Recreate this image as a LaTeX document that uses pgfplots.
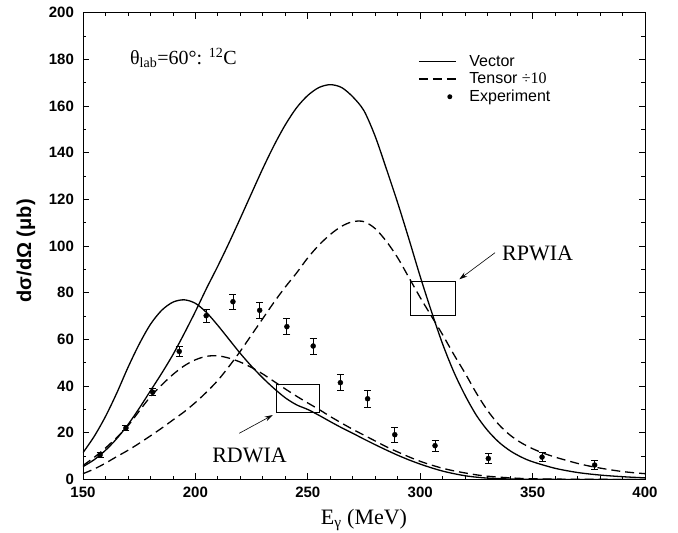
\documentclass[border=0pt]{standalone}
\usepackage{fontspec}
\setmainfont{Liberation Sans}
\newfontfamily\serif{Liberation Serif}
\usepackage{pgfplots}
\usepackage{pgfplotstable}
\pgfplotsset{compat=1.18}
\usetikzlibrary{arrows.meta}

% RDWIA vector
\pgfplotstableread{
x y
150 11.5
155 18.5
160 27
165 37
170 48
175 58
180 66.5
185 72.5
190 76
195 77
200 75.5
205 71.5
210 66
215 60
220 54
225 48.5
230 43.5
235 39
240 35
245 32
250 30
255 27.5
260 24.8
265 22.2
270 19.8
275 17.3
280 14.9
285 12.6
290 10.4
295 8.4
300 6.6
305 5
310 3.6
315 2.5
320 1.6
325 1
330 0.6
340 0.2
350 0.08
370 0.02
400 0
}\rdv

% RDWIA tensor /10
\pgfplotstableread{
x y
150 6
155 9.5
160 13.5
165 18
170 23
175 29.3
180 35.5
185 40.5
190 45
195 48.7
200 51.3
205 52.8
210 53
215 52
220 50.3
225 48
230 45.2
235 42
240 38.8
245 35.7
250 32.8
255 30
260 27
265 24.2
270 21.5
275 19
280 16.5
285 14
290 11.8
295 9.7
300 7.8
305 6.2
310 4.8
315 3.7
320 2.8
325 2
330 1.4
340 0.7
350 0.3
370 0.1
400 0
}\rdt

% RPWIA vector
\pgfplotstableread{
x y
150 5.5
155 8.5
160 12.5
165 17.5
170 23.5
175 30.5
180 38
185 45.5
190 53.5
195 62.5
200 72
205 82
210 91.5
215 101.5
220 112
225 122.7
230 133.3
235 143.2
240 152
245 159.3
250 164.6
255 168
260 169.2
265 168
270 164
275 158
280 147
285 133
290 118.5
295 103
300 87
305 72
310 58
315 46
320 36
325 27.5
330 21
335 16
340 12.3
345 9.6
350 7.6
360 4.8
370 3
380 1.9
390 1.2
400 0.7
}\rpv

% RPWIA tensor /10
\pgfplotstableread{
x y
150 2.5
155 4.5
160 7
165 9.8
170 12.5
175 15.5
180 18.7
185 22
190 25.5
195 29
200 33
205 37.5
210 42.5
215 48.5
220 55
225 62
230 69
235 76
240 82.5
245 88.5
250 95
255 100.5
260 105
265 108.5
270 110.5
275 110.5
280 107.5
285 102
290 95
295 86.5
300 78
305 70
310 62
315 53.5
320 45.5
325 37
330 29.5
335 23.5
340 19
345 15.7
350 13.2
355 11.2
360 9.6
365 8.2
370 6.9
375 5.8
380 4.9
385 4.1
390 3.4
395 2.9
400 2.5
}\rpt

% Experiment
\pgfplotstableread{
x y e
157.6 10.5 1.0
169.1 22.1 1.0
181.0 37.4 1.5
192.8 54.9 2.3
204.8 70.2 2.9
216.7 76.2 3.3
228.6 72.5 3.4
240.7 65.5 3.5
252.4 57.2 3.4
264.5 41.5 3.4
276.6 34.6 3.6
288.7 19.2 3.1
306.6 14.5 2.4
330.3 9.0 2.2
354.2 9.6 2.0
377.6 6.2 1.9
}\expdata

\begin{document}
\begin{tikzpicture}
\begin{axis}[
  scale only axis, width=562pt, height=466.7pt,
  xmin=150, xmax=400, ymin=0, ymax=200,
  xtick={150,200,...,400}, ytick={0,20,...,200},
  minor x tick num=4, minor y tick num=1,
  major tick length=6pt, minor tick length=3.5pt,
  tick align=inside,
  axis line style={line width=0.9pt},
  every tick/.style={line width=0.8pt, black},
  /pgf/number format/assume math mode=true,
  tick label style={font=\fontsize{15}{18}\selectfont\bfseries},
  xticklabel style={yshift=-3.8pt},
  yticklabel style={xshift=-5.6pt},
  xlabel={{\serif E\textsubscript{γ} (MeV)}},
  ylabel={\bfseries dσ/dΩ (μb)},
  every axis x label/.style={at={(axis description cs:0.5,-0.086)},anchor=center,font=\fontsize{22}{26}\selectfont},
  every axis y label/.style={at={(axis description cs:-0.1014,0.49)},anchor=center,rotate=90,font=\fontsize{20}{24}\selectfont},
  legend image code/.code={\draw[#1] (0pt,0pt) -- (37pt,0pt);},
  legend cell align=left,
  legend style={at={(0.596,0.9096)}, anchor=north west, draw=none, fill=none,
    inner sep=0pt, font=\fontsize{16}{19}\selectfont, row sep=5pt,
    nodes={inner sep=0pt},
    /tikz/every odd column/.append style={column sep=13pt}},
]
\addlegendimage{black, line width=1.3pt}
\addlegendentry{Vector}
\addlegendimage{black, line width=1.3pt, dash pattern=on 9pt off 5pt}
\addlegendentry{Tensor {\serif ÷10}}
\addlegendimage{black, legend image code/.code={\path[draw=none,fill=none] (0pt,0pt) -- (37pt,0pt); \path[draw=none,fill=black] (31pt,0pt) circle (2.5pt);}}
\addlegendentry{Experiment}

\addplot[black, line width=1.3pt, smooth, forget plot] table {\rdv};
\addplot[black, line width=1.3pt, dash pattern=on 9pt off 5pt, smooth, forget plot] table {\rdt};
\addplot[black, line width=1.3pt, smooth, forget plot] table {\rpv};
\addplot[black, line width=1.3pt, dash pattern=on 9pt off 5pt, smooth, forget plot] table {\rpt};
\addplot[black, only marks, mark=*, mark size=2.5pt, forget plot,
  error bars/.cd, y dir=both, y explicit,
  error bar style={line width=0.8pt, black},
  error mark options={rotate=90, mark size=3.5pt, line width=0.8pt, black}]
  table[x=x, y=y, y error=e] {\expdata};

\draw[line width=0.8pt] (axis cs:236.2,28.7) rectangle (axis cs:255.1,40.6);
\draw[line width=0.8pt] (axis cs:295.8,70.5) rectangle (axis cs:315.5,84.8);
\draw[line width=0.6pt, -{Stealth[length=8pt,width=5pt]}] (axis cs:333.3,97.2) -- (axis cs:317.4,85.8);
\draw[line width=0.6pt, -{Stealth[length=8pt,width=5pt]}] (axis cs:219.5,19.8) -- (axis cs:234.4,27.6);
\node[font=\serif\fontsize{22}{26}\selectfont] at (axis cs:352.2,96.9) {RPWIA};
\node[font=\serif\fontsize{22}{26}\selectfont] at (axis cs:224.1,10.5) {RDWIA};
\node[font=\serif\fontsize{20}{24}\selectfont, anchor=base west] at (axis cs:169.4,177.7) {θ\textsubscript{lab}=60°: \textsuperscript{12}C};
\end{axis}
\pgfresetboundingbox
\useasboundingbox (-83pt,-53.5pt) rectangle (595pt,479.5pt);
\end{tikzpicture}
\end{document}
